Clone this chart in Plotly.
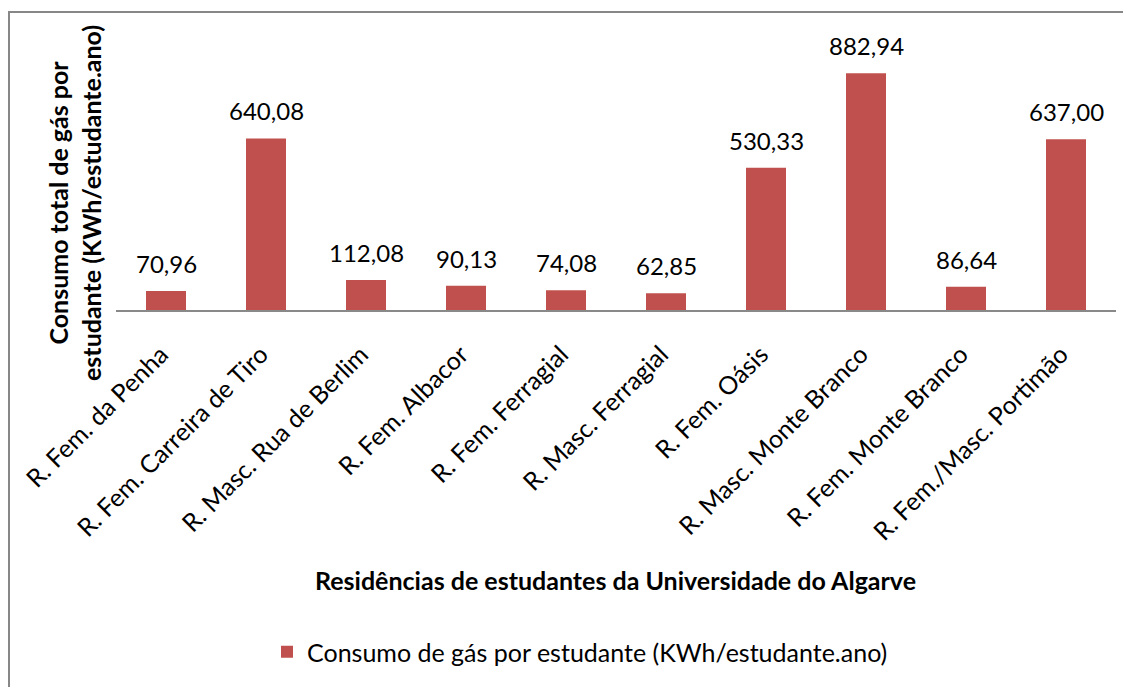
import plotly.graph_objects as go

categories = ["R. Fem. da Penha", "R. Fem. Carreira de Tiro", "R. Masc. Rua de Berlim",
              "R. Fem. Albacor", "R. Fem. Ferragial", "R. Masc. Ferragial", "R. Fem. Oásis",
              "R. Masc. Monte Branco", "R. Fem. Monte Branco", "R. Fem./Masc. Portimão"]
values = [70.96, 640.08, 112.08, 90.13, 74.08, 62.85, 530.33, 882.94, 86.64, 637.00]
series_name = "Consumo de gás por estudante (KWh/estudante.ano)"
x_title = "Residências de estudantes da Universidade do Algarve"
y_title = "Consumo total de gás por<br>estudante (KWh/estudante.ano)"

FONT = "Lato"
BAR = "#C0504D"

OFF = 8  # page body margin
W, H = 1131, 687
# desired plot area in page coordinates
PL, PR, PT, PB = 116, 1116, 42, 310
L = PL - OFF
T = PT - OFF
R = W - (PR - OFF)
B = H - (PB - OFF)
PW, PH = PR - PL, PB - PT

def px_x(p):
    return (p - PL) / PW

def px_y(p):
    return (PB - p) / PH

fig = go.Figure()
fig.add_trace(go.Bar(x=categories, y=values, name=series_name, marker_color=BAR,
                     marker_line_width=0, width=0.4, showlegend=True))

annotations = []
for c, v in zip(categories, values):
    annotations.append(dict(x=c, y=v, xref="x", yref="y", text=f"{v:.2f}".replace(".", ","),
                            showarrow=False, yanchor="bottom", yshift=11,
                            font=dict(family=FONT, size=24, color="#000")))
annotations.append(dict(x=px_x(615), y=px_y(580), xref="paper", yref="paper", text=f"<b>{x_title}</b>",
                        showarrow=False, xanchor="center", yanchor="middle",
                        font=dict(family=FONT, size=25, color="#000")))
annotations.append(dict(x=px_x(74), y=px_y(203), xref="paper", yref="paper", text=f"<b>{y_title}</b>",
                        showarrow=False, xanchor="center", yanchor="middle", textangle=-90,
                        font=dict(family=FONT, size=25, color="#000")))

fig.update_layout(
    width=W, height=H,
    margin=dict(l=L, r=R, t=T, b=B, autoexpand=False),
    paper_bgcolor="white", plot_bgcolor="white",
    annotations=annotations,
    xaxis=dict(tickangle=-45, tickfont=dict(family=FONT, size=25, color="#000"),
               showline=True, linecolor="#898989", linewidth=2, ticks="", showgrid=False,
               ticklabelstandoff=18, ticklabelshift=-5,
               range=[-0.5, 9.5]),
    yaxis=dict(range=[0, 1000], visible=False, showgrid=False, zeroline=False),
    legend=dict(orientation="h", x=px_x(580), xanchor="center", y=px_y(652), yanchor="middle",
                font=dict(family=FONT, size=25, color="#000"), itemwidth=30),
    shapes=[dict(type="rect", xref="paper", yref="paper", x0=px_x(9), x1=px_x(1128),
                 y0=px_y(720), y1=px_y(12), line=dict(color="#878787", width=2),
                 fillcolor="rgba(0,0,0,0)", layer="below")],
    bargap=0.6,
)

fig.write_html("out.html")
